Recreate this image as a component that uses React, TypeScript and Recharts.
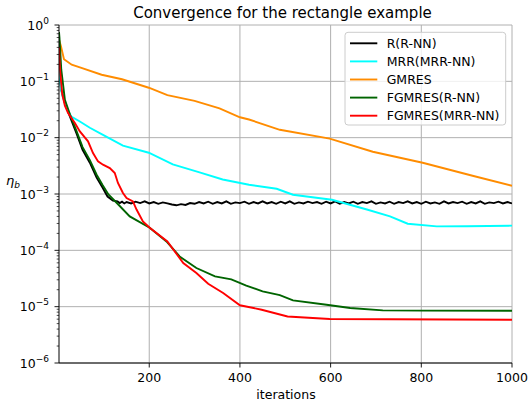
import React from 'react';
import { LineChart, Line, XAxis, YAxis, CartesianGrid } from 'recharts';

// ---------- data ----------
const rIter = [1, 3, 6, 14, 25, 39, 53, 69, 84, 97, 108, 120,
  130, 135, 140, 145, 150, 160, 170, 180, 190, 200, 210, 220, 230, 240, 250, 260, 270, 280, 290,
  300, 310, 320, 330, 340, 350, 360, 370, 380, 390, 400, 410, 420, 430, 440, 450, 460,
  470, 480, 490, 500, 510, 520, 530, 540, 550, 560, 570, 580, 590, 600, 610, 620, 630,
  640, 650, 660, 670, 680, 690, 700, 710, 720, 730, 740, 750, 760, 770, 780, 790, 800,
  810, 820, 830, 840, 850, 860, 870, 880, 890, 900, 910, 920, 930, 940, 950, 960, 970,
  980, 990, 1000];
const rVals = [0.35, 0.11, 0.071, 0.041, 0.0238, 0.01225, 0.0061, 0.0036, 0.00195, 0.0013, 0.0009, 0.00076,
  7.4e-4, 6.9e-4, 7.3e-4, 6.8e-4, 7.2e-4, 6.8e-4, 7.3e-4, 6.9e-4, 7.4e-4, 6.8e-4, 7.2e-4, 6.7e-4, 7.1e-4, 6.8e-4, 6.5e-4, 6.3e-4, 6.6e-4, 6.4e-4, 6.9e-4,
  6.7e-4, 7.2e-4, 6.8e-4, 7.3e-4, 6.7e-4, 7.2e-4, 6.8e-4, 7.4e-4, 6.7e-4, 7.1e-4, 6.9e-4, 7.3e-4, 6.7e-4, 7.2e-4, 6.8e-4, 7.4e-4, 6.8e-4,
  7.2e-4, 6.7e-4, 7.3e-4, 6.8e-4, 7.4e-4, 6.7e-4, 7.1e-4, 6.8e-4, 7.3e-4, 6.9e-4, 7.2e-4, 6.7e-4, 7.3e-4, 6.8e-4, 7.4e-4, 6.7e-4, 7.2e-4,
  6.8e-4, 7.3e-4, 6.7e-4, 7.2e-4, 6.9e-4, 7.4e-4, 6.7e-4, 7.1e-4, 6.8e-4, 7.3e-4, 6.7e-4, 7.2e-4, 6.9e-4, 7.4e-4, 6.8e-4, 7.2e-4, 6.7e-4,
  7.3e-4, 6.8e-4, 7.1e-4, 6.7e-4, 7.4e-4, 6.8e-4, 7.2e-4, 6.9e-4, 7.3e-4, 6.7e-4, 7.2e-4, 6.8e-4, 7.4e-4, 6.7e-4, 7.1e-4, 6.9e-4, 7.3e-4,
  6.8e-4, 7.2e-4, 6.8e-4];

const mrrIter = [1, 3, 5, 9, 20, 28, 47, 69, 97, 142, 199, 252, 311, 362, 420, 481, 517, 603, 680, 731, 770, 834, 900, 1000];
const mrrVals = [0.4, 0.12, 0.075, 0.0533, 0.0313, 0.0238, 0.0194, 0.015, 0.0113, 0.0072, 0.0054, 0.00335, 0.00242,
  0.00181, 0.00146, 0.00124, 0.00097, 0.00079, 0.00053, 0.0004, 0.000297, 0.000266, 0.000268, 0.000274];

const gmresIter = [1, 5, 12, 29, 52, 95, 140, 199, 240, 300, 355, 400, 420, 488, 598, 693, 803, 913, 1000];
const gmresVals = [0.55, 0.43, 0.247, 0.197, 0.171, 0.131, 0.109, 0.077, 0.057, 0.045, 0.033, 0.023, 0.021,
  0.0138, 0.0096, 0.00563, 0.00359, 0.00211, 0.0014];

const fgRIter = [1, 2, 6, 14, 25, 39, 53, 69, 84, 97, 110, 128, 157, 201, 238, 267, 304, 345, 381, 414, 450, 488,
  517, 591, 643, 715, 800, 1000];
const fgRVals = [0.75, 0.6, 0.161, 0.047, 0.026, 0.0135, 0.0068, 0.004, 0.0022, 0.00145, 0.00098, 0.0007, 0.0004,
  0.000252, 0.000144, 0.000078, 0.0000485, 0.0000344, 0.0000305, 0.0000236, 0.0000187, 0.000016, 0.0000129,
  0.0000108, 0.00000946, 0.00000858, 0.0000085, 0.00000848];

const fgMIter = [1, 3, 8, 14, 21, 36, 47, 65, 76, 87, 98, 113, 124, 131, 142, 150, 164, 172, 186, 201, 240, 275,
  304, 330, 363, 400, 448, 505, 598, 1000];
const fgMVals = [0.4, 0.17, 0.06, 0.037, 0.0274, 0.0182, 0.0129, 0.0086, 0.00534, 0.00379, 0.00331, 0.00289,
  0.00236, 0.00157, 0.00104, 0.00085, 0.00074, 0.00053, 0.000326, 0.000252, 0.000144, 0.0000596, 0.0000396,
  0.0000255, 0.0000175, 0.0000106, 0.00000883, 0.0000067, 0.00000604, 0.00000586];

const seriesNames = ['R(R-NN)', 'MRR(MRR-NN)', 'GMRES', 'FGMRES(R-NN)', 'FGMRES(MRR-NN)'];
const seriesColors = ['#000000', '#00ffff', '#ff8c00', '#006400', '#ff0000'];

const xTicks = [200, 400, 600, 800, 1000];
const yMajor = [1e-6, 1e-5, 1e-4, 1e-3, 1e-2, 1e-1, 1];

const title = 'Convergence for the rectangle example';
const xLabel = 'iterations';

// ---------- helpers ----------
const zip = (xs: number[], ys: number[]) => xs.map((x, i) => ({ x, y: ys[i] }));
const allSeries = [
  zip(rIter, rVals),
  zip(mrrIter, mrrVals),
  zip(gmresIter, gmresVals),
  zip(fgRIter, fgRVals),
  zip(fgMIter, fgMVals),
];

const yTicks: number[] = [];
yMajor.forEach((m, i) => {
  yTicks.push(m);
  if (i < yMajor.length - 1) for (let k = 2; k <= 9; k++) yTicks.push(Number((m * k).toPrecision(3)));
});

const FONT = 'DejaVu Sans';
const TICK_SIZE = 4;
const TICK_MARGIN = 6;

function YTick(props: any) {
  const { x, y, payload } = props;
  const v = payload.value as number;
  const lg = Math.log10(v);
  const e = Math.round(lg);
  const major = Math.abs(lg - e) < 1e-6;
  const ax = x + TICK_MARGIN + TICK_SIZE;
  if (!major) {
    return <line x1={ax - 2.3} x2={ax} y1={y} y2={y} stroke="#000" strokeWidth={0.7} />;
  }
  const exp = e < 0 ? `\u2212${-e}` : `${e}`;
  return (
    <g>
      <line x1={ax - 4.5} x2={ax} y1={y} y2={y} stroke="#000" strokeWidth={0.9} />
      <text x={x} y={y} dy="0.36em" textAnchor="end" fontSize={12.5} fontFamily={FONT} fill="#000">
        10<tspan fontSize={9} dy={-6}>{exp}</tspan>
      </text>
    </g>
  );
}

export default function App() {
  const W = 529;
  const H = 400;
  return (
    <div style={{ position: 'absolute', left: 0, top: 0, width: W, height: H, background: '#fff' }}>
      <LineChart width={W} height={H} margin={{ top: 25, right: 17, bottom: 7, left: 0 }}>
        <CartesianGrid stroke="#b0b0b0" strokeWidth={1} horizontalValues={yMajor} verticalValues={xTicks} />
        <XAxis
          dataKey="x"
          type="number"
          domain={[1, 1000]}
          ticks={xTicks}
          interval={0}
          height={30}
          allowDataOverflow
          tickSize={4.5}
          tickMargin={5.5}
          stroke="#000"
          tick={{ fill: '#000', fontSize: 12.5, fontFamily: FONT }}
          axisLine={{ stroke: '#000', strokeWidth: 1 }}
          tickLine={{ stroke: '#000', strokeWidth: 0.9 }}
        />
        <XAxis xAxisId="top" orientation="top" type="number" domain={[1, 1000]} height={0} tick={false} tickLine={false}
          axisLine={{ stroke: '#000', strokeWidth: 1 }} />
        <YAxis
          type="number"
          scale="log"
          domain={[1e-6, 1]}
          allowDataOverflow
          ticks={yTicks}
          interval={0}
          width={59}
          tickSize={TICK_SIZE}
          tickMargin={TICK_MARGIN}
          tickLine={false}
          tick={<YTick />}
          axisLine={{ stroke: '#000', strokeWidth: 1 }}
        />
        <YAxis yAxisId="right" orientation="right" type="number" domain={[0, 1]} width={0} tick={false} tickLine={false}
          axisLine={{ stroke: '#000', strokeWidth: 1 }} />
        {allSeries.map((d, i) => (
          <Line
            key={seriesNames[i]}
            data={d}
            dataKey="y"
            name={seriesNames[i]}
            type="linear"
            stroke={seriesColors[i]}
            strokeWidth={1.9}
            dot={false}
            activeDot={false}
            isAnimationActive={false}
          />
        ))}
      </LineChart>
      <svg width={W} height={H} style={{ position: 'absolute', left: 0, top: 0, pointerEvents: 'none' }}>
        <text x={282.5} y={17.5} textAnchor="middle" fontSize={15} fontFamily={FONT} fill="#000">{title}</text>
        <text x={286} y={398.5} textAnchor="middle" fontSize={12.5} fontFamily={FONT} fill="#000">{xLabel}</text>
        <text x={6} y={185} fontSize={13} fontFamily={FONT} fontStyle="italic" fill="#000">
          η<tspan fontSize={9} dy={2.5}>b</tspan>
        </text>
        <g>
          <rect x={345} y={32.3} width={160.7} height={92.7} rx={3} fill="#fff" fillOpacity={0.8} stroke="#cccccc" strokeWidth={1} />
          {seriesNames.map((n, i) => {
            const yy = 43.3 + i * 18.1;
            return (
              <g key={n}>
                <line x1={350} x2={377.3} y1={yy} y2={yy} stroke={seriesColors[i]} strokeWidth={1.9} />
                <text x={386.7} y={yy + 4.5} fontSize={12.5} fontFamily={FONT} fill="#000">{n}</text>
              </g>
            );
          })}
        </g>
      </svg>
    </div>
  );
}
